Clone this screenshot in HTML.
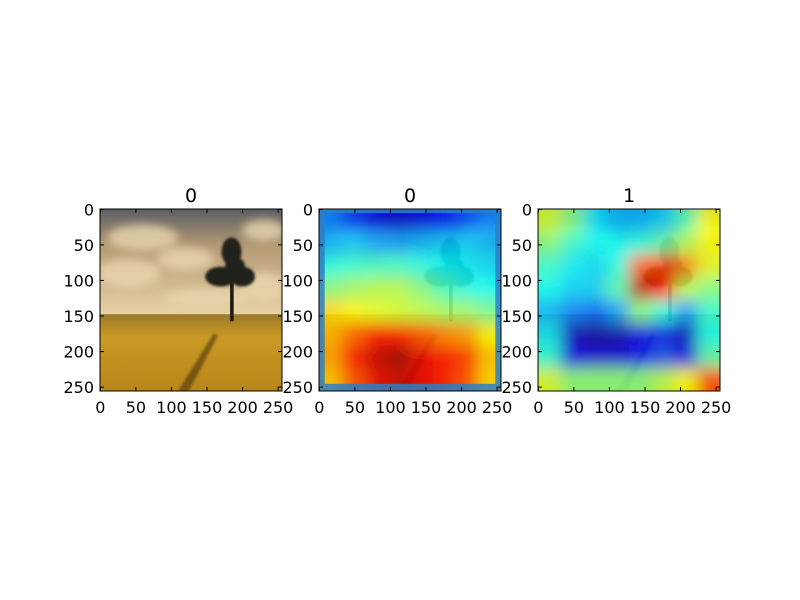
<!DOCTYPE html>
<html><head><meta charset="utf-8"><style>
html,body{margin:0;padding:0;background:#fff;}
svg{display:block;font-family:"DejaVu Sans","Liberation Sans",sans-serif;}
</style></head><body>
<svg id="fig" width="800" height="600" viewBox="0 0 800 600" xmlns="http://www.w3.org/2000/svg">
<defs>
  <filter id="blur" x="-10%" y="-10%" width="120%" height="120%"><feGaussianBlur stdDeviation="11"/></filter>
  <filter id="blur2"><feGaussianBlur stdDeviation="6"/></filter>
  <filter id="blur3"><feGaussianBlur stdDeviation="2"/></filter>
  <linearGradient id="sky" x1="0" y1="0" x2="0" y2="1">
    <stop offset="0" stop-color="#5a5e62"/><stop offset="0.35" stop-color="#b59a74"/><stop offset="1" stop-color="#e8d3a6"/>
  </linearGradient>
  <linearGradient id="field" x1="0" y1="0" x2="0" y2="1">
    <stop offset="0" stop-color="#9a7a2a"/><stop offset="0.3" stop-color="#c99a24"/><stop offset="1" stop-color="#b8861a"/>
  </linearGradient>
  <clipPath id="imgclip"><rect x="0" y="0" width="256" height="256"/></clipPath>
  <g id="photo">
    <rect x="0" y="0" width="256" height="150" fill="url(#sky)"/>
    <g filter="url(#blur2)" fill="#e9d6ae" opacity="0.8">
      <ellipse cx="60" cy="40" rx="50" ry="18"/><ellipse cx="40" cy="90" rx="45" ry="20"/>
      <ellipse cx="120" cy="70" rx="40" ry="16"/><ellipse cx="230" cy="30" rx="30" ry="15"/>
      <ellipse cx="230" cy="110" rx="30" ry="20"/><ellipse cx="150" cy="125" rx="60" ry="12"/>
    </g>
    <rect x="0" y="148" width="256" height="108" fill="url(#field)"/>
    <path d="M160,175 L110,256 L125,256 L166,178Z" fill="#5a4010" opacity="0.7" filter="url(#blur3)"/>
    <rect x="183" y="90" width="5" height="68" fill="#1e1a12"/>
    <g fill="#24201a" filter="url(#blur3)">
      <ellipse cx="185" cy="60" rx="14" ry="20"/><ellipse cx="170" cy="95" rx="22" ry="14"/>
      <ellipse cx="200" cy="95" rx="18" ry="14"/><ellipse cx="190" cy="80" rx="14" ry="12"/>
    </g>
  </g>
</defs>
<g id="panels"></g>
</svg>
<script>
const ticks=[0,50,100,150,200,250];
const titles=["0","0","1"];
const panelX=[100,319,538];
// coarse 8x8 activation grids (0..1), rows top->bottom
const heat2=[
 [0.25,0.18,0.1,0.08,0.1,0.14,0.2,0.25],
 [0.3,0.32,0.28,0.28,0.3,0.32,0.33,0.3],
 [0.4,0.42,0.43,0.43,0.4,0.38,0.36,0.34],
 [0.5,0.53,0.55,0.55,0.5,0.44,0.4,0.38],
 [0.66,0.63,0.6,0.58,0.56,0.53,0.52,0.48],
 [0.7,0.78,0.86,0.86,0.8,0.75,0.72,0.62],
 [0.72,0.86,0.93,0.97,0.9,0.86,0.82,0.68],
 [0.68,0.8,0.9,0.93,0.9,0.86,0.8,0.66]];
const heat3=[
 [0.58,0.5,0.35,0.3,0.3,0.33,0.45,0.62],
 [0.5,0.42,0.38,0.38,0.4,0.46,0.55,0.62],
 [0.42,0.36,0.34,0.4,0.78,0.82,0.75,0.6],
 [0.38,0.33,0.33,0.45,0.95,0.85,0.55,0.5],
 [0.3,0.25,0.22,0.28,0.5,0.4,0.28,0.42],
 [0.35,0.08,0.05,0.06,0.12,0.15,0.08,0.38],
 [0.4,0.12,0.1,0.1,0.14,0.2,0.12,0.45],
 [0.58,0.5,0.5,0.5,0.5,0.55,0.62,0.8]];
const heats=[null,heat2,heat3];
const NS="http://www.w3.org/2000/svg";
function jet(v){
  const c=t=>Math.round(255*Math.max(0,Math.min(1,1.5-Math.abs(4*v-t))));
  return `rgb(${c(3)},${c(2)},${c(1)})`;
}
const S=182/256, Y0=209;
const sx=v=>v*S, sy=v=>v*S;
function el(tag,attrs,parent){const e=document.createElementNS(NS,tag);for(const k in attrs)e.setAttribute(k,attrs[k]);parent.appendChild(e);return e;}
const root=document.getElementById('panels');
panelX.forEach((x0,p)=>{
  const g=el('g',{transform:`translate(${x0},${Y0})`},root);
  
  
  const img=el('g',{transform:`scale(${S})`,'clip-path':'url(#imgclip)'},g);
  
  
  el('use',{href:'#photo'},img);
  const h=heats[p];
  if(h){
    const hg=el('g',{filter:'url(#blur)',opacity:'0.85'},img);
    const n=h.length,cs=256/n;
    h.forEach((row,r)=>row.forEach((v,c)=>{
      const cell=el('rect',{x:c*cs-(c==0?20:0),y:r*cs-(r==0?20:0),width:cs+1+(c==0||c==n-1?20:0),height:cs+1+(r==0||r==n-1?20:0),fill:jet(v)},hg);
      
      
    }));
    if(p==1){
      const b=el('path',{d:'M0,0 H256 V256 H0Z M8,6 V246 H248 V6Z','fill-rule':'evenodd',fill:'#2a7fc8',opacity:'0.85'},img);
      
      
    }
  }
  el('rect',{x:0,y:0,width:182,height:182,fill:'none',stroke:'#000','stroke-width':1},g);
  ticks.forEach(t=>{
    const px=sx(t+0.5),py=sy(t+0.5);
    el('line',{x1:px,y1:0,x2:px,y2:4,stroke:'#000'},g);
    el('line',{x1:px,y1:182,x2:px,y2:178,stroke:'#000'},g);
    el('line',{x1:0,y1:py,x2:4,y2:py,stroke:'#000'},g);
    el('line',{x1:182,y1:py,x2:178,y2:py,stroke:'#000'},g);
    const tx=el('text',{x:px,y:204,'text-anchor':'middle','font-size':16},g);
    tx.textContent=t;
    
    
    const ty=el('text',{x:-6,y:py+6,'text-anchor':'end','font-size':16},g);
    ty.textContent=t;
    
    
  });
  const tt=el('text',{x:91,y:-7,'text-anchor':'middle','font-size':19},g);
  tt.textContent=titles[p];
  
  
});
</script>
</body></html>
